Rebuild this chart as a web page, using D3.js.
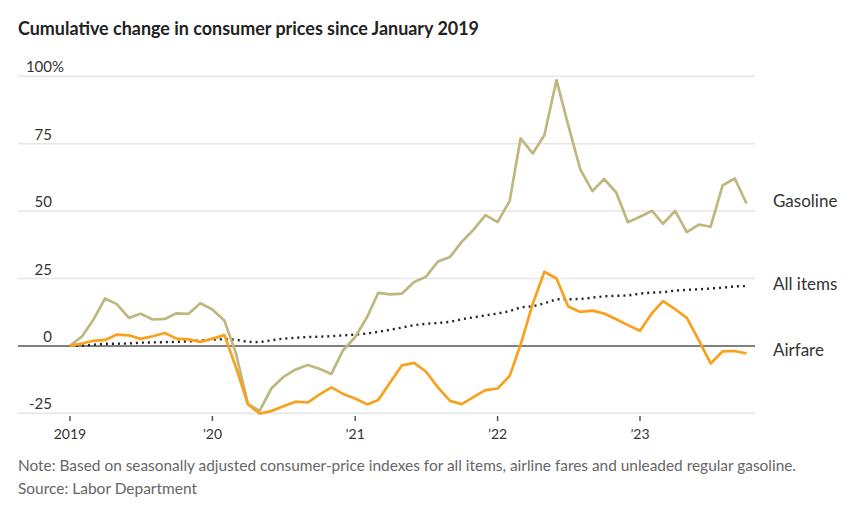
<!DOCTYPE html>
<html>
<head>
<meta charset="utf-8">
<script src="https://cdn.jsdelivr.net/npm/d3@7"></script>
<style>
  html, body { margin: 0; padding: 0; background: #fff; }
  svg { display: block; font-family: Lato, "Noto Sans", sans-serif; }
</style>
</head>
<body>
<svg id="chart" width="862" height="511"></svg>
<script>
// ---- Data (percent change since January 2019), monthly Jan 2019 – Oct 2023 ----
const startMonth = new Date(2019, 0, 1);
const endMonth = new Date(2023, 10, 1); // exclusive
const months = d3.timeMonth.range(startMonth, endMonth);

const gasoline = [0, 3.6, 9.5, 17.6, 15.5, 10.4, 11.9, 9.8, 10.0, 12.1, 11.9, 15.8,
  13.5, 9.3, -2.6, -21.6, -24.1, -15.6, -11.5, -8.8, -7.1, -8.5, -10.4, -1.6,
  3.3, 10.8, 19.7, 19.1, 19.4, 23.7, 25.6, 31.3, 33.0, 38.6, 43.2, 48.5,
  45.9, 53.8, 77.0, 71.4, 78.2, 98.6, 81.9, 65.5, 57.4, 61.9, 56.9, 45.9,
  47.9, 50.1, 45.3, 50.1, 42.2, 45.0, 44.2, 59.6, 62.1, 52.8];

const airfare = [0, 0.9, 1.9, 2.2, 4.2, 3.9, 2.6, 3.6, 4.8, 2.7, 2.4, 1.5,
  2.7, 4.0, -7.8, -21.6, -25.1, -24.1, -22.4, -20.7, -21.0, -18.1, -15.4, -17.8,
  -19.5, -21.7, -20.1, -13.5, -7.2, -6.3, -9.5, -15.4, -20.4, -21.6, -18.9, -16.4,
  -15.8, -11.1, 0.5, 15.6, 27.5, 25.0, 14.6, 12.6, 13.1, 12.0, 9.9, 7.7,
  5.6, 12.2, 16.6, 13.6, 10.4, 2.0, -6.5, -2.0, -1.9, -2.8];

const allItems = [0, 0.1, 0.4, 0.8, 0.8, 0.9, 1.2, 1.3, 1.4, 1.5, 1.7, 2.0,
  2.3, 2.5, 2.3, 1.5, 1.4, 2.1, 2.7, 3.0, 3.3, 3.4, 3.6, 3.9,
  4.2, 4.6, 5.2, 6.0, 6.8, 7.7, 8.2, 8.5, 8.9, 9.9, 10.6, 11.3,
  12.0, 12.9, 14.3, 14.7, 15.8, 17.3, 17.3, 17.4, 17.9, 18.4, 18.6, 18.7,
  19.4, 19.8, 19.9, 20.5, 20.8, 21.0, 21.3, 21.6, 22.1, 22.2];

const seriesNames = ["Gasoline", "All items", "Airfare"];
const yTicks = [-25, 0, 25, 50, 75, 100];
const xTickYears = [2019, 2020, 2021, 2022, 2023];
const xTickLabels = ["2019", "\u201920", "\u201921", "\u201922", "\u201923"];

const titleText = "Cumulative change in consumer prices since January 2019";
const noteText = "Note: Based on seasonally adjusted consumer-price indexes for all items, airline fares and unleaded regular gasoline.";
const sourceText = "Source: Labor Department";

// ---- Layout ----
const svg = d3.select("#chart");
const gridLeft = 18, gridRight = 755;

const x = d3.scaleTime()
  .domain([new Date(2019, 0, 1), new Date(2023, 0, 1)])
  .range([70, 640]);
const y = d3.scaleLinear()
  .domain([-25, 100])
  .range([413.3, 76.3]);

// Title
svg.append("text")
  .attr("x", 18).attr("y", 35)
  .attr("font-size", 18).attr("font-weight", 700)
  .attr("fill", "#222")
  .attr("textLength", 461).attr("lengthAdjust", "spacingAndGlyphs")
  .text(titleText);

// Gridlines
svg.append("g").selectAll("line")
  .data(yTicks.filter(d => d !== 0))
  .join("line")
  .attr("x1", gridLeft).attr("x2", gridRight)
  .attr("y1", d => y(d)).attr("y2", d => y(d))
  .attr("stroke", "#e5e5e5").attr("stroke-width", 1.5);

// Y labels
const yl = svg.append("g").attr("font-size", 15).attr("fill", "#333");
yTicks.forEach(t => {
  yl.append("text")
    .attr("x", 52).attr("y", y(t) - 4)
    .attr("text-anchor", "end")
    .text(t);
  if (t === 100) {
    yl.append("text").attr("x", 52).attr("y", y(t) - 4).text("%");
  }
});

// X ticks and labels
const xg = svg.append("g");
xTickYears.forEach((yr, i) => {
  const px = x(new Date(yr, 0, 1));
  xg.append("line")
    .attr("x1", px).attr("x2", px)
    .attr("y1", 416).attr("y2", 421)
    .attr("stroke", "#555").attr("stroke-width", 1.5);
  xg.append("text")
    .attr("x", px).attr("y", 439)
    .attr("text-anchor", "middle")
    .attr("font-size", 14).attr("fill", "#333")
    .text(xTickLabels[i]);
});

// Zero line
svg.append("line")
  .attr("x1", gridLeft).attr("x2", gridRight)
  .attr("y1", y(0)).attr("y2", y(0))
  .attr("stroke", "#555").attr("stroke-width", 1.5);

const line = d3.line()
  .x((d, i) => x(months[i]))
  .y(d => y(d));

// All items (dotted)
svg.append("path")
  .datum(allItems)
  .attr("d", line)
  .attr("fill", "none")
  .attr("stroke", "#222")
  .attr("stroke-width", 2.4)
  .attr("stroke-dasharray", "2 4");

// Gasoline
svg.append("path")
  .datum(gasoline)
  .attr("d", line)
  .attr("fill", "none")
  .attr("stroke", "#bfb77f")
  .attr("stroke-width", 2.7)
  .attr("stroke-linejoin", "round");

// Airfare
svg.append("path")
  .datum(airfare)
  .attr("d", line)
  .attr("fill", "none")
  .attr("stroke", "#f9a11e")
  .attr("stroke-width", 2.7)
  .attr("stroke-linejoin", "round");

// Series labels at the end
const lastVals = [gasoline[gasoline.length - 1], allItems[allItems.length - 1], airfare[airfare.length - 1]];
svg.append("g").selectAll("text")
  .data(seriesNames)
  .join("text")
  .attr("x", 773)
  .attr("y", (d, i) => y(lastVals[i]) + 3 + (i === 1 ? 1 : 0))
  .attr("font-size", 17)
  .attr("fill", "#333")
  .text(d => d);

// Note and source
svg.append("text")
  .attr("x", 18).attr("y", 471)
  .attr("font-size", 15).attr("fill", "#666")
  .attr("textLength", 778).attr("lengthAdjust", "spacingAndGlyphs")
  .text(noteText);
svg.append("text")
  .attr("x", 18).attr("y", 494)
  .attr("font-size", 15).attr("fill", "#666")
  .attr("textLength", 179).attr("lengthAdjust", "spacingAndGlyphs")
  .text(sourceText);
</script>
</body>
</html>
